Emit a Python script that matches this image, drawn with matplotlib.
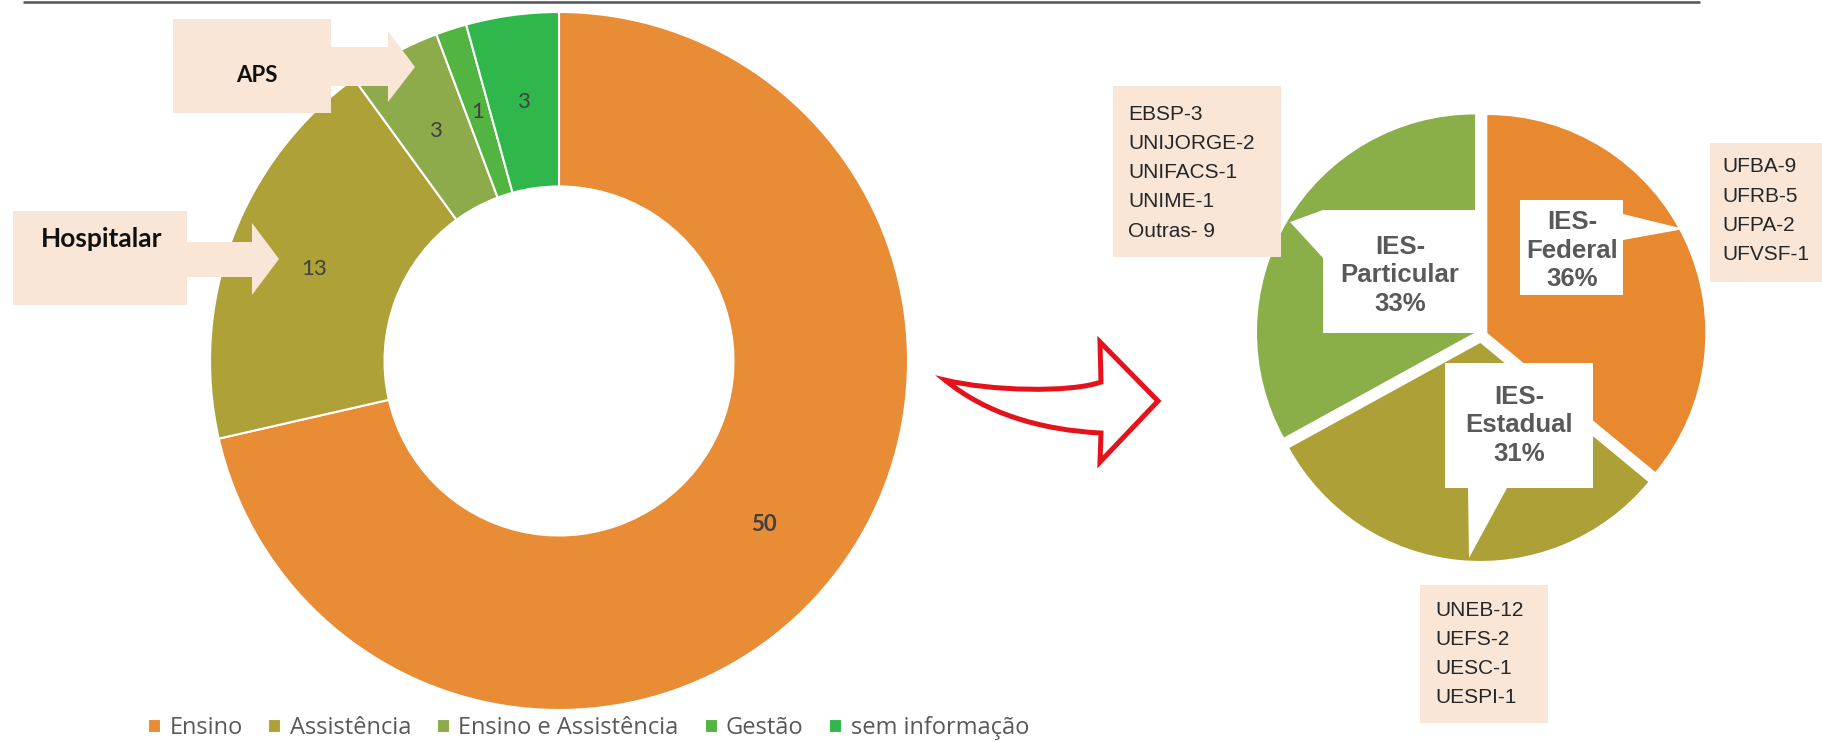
import matplotlib
matplotlib.use("Agg")
import matplotlib.pyplot as plt
from matplotlib.patches import Polygon, Rectangle, PathPatch
from matplotlib.path import Path

# Data
donut_labels = ["Ensino", "Assistência", "Ensino e Assistência", "Gestão", "sem informação"]
donut_values = [50, 13, 3, 1, 3]
donut_colors = ["#E88C35", "#AEA138", "#8DAB4B", "#52B541", "#2FB74B"]

ies_names = ["IES-\nFederal", "IES-\nEstadual", "IES-\nParticular"]
ies_pct = [36, 31, 33]
ies_colors = ["#E8892F", "#ADA036", "#8AAE48"]

federal_list = ["UFBA-9", "UFRB-5", "UFPA-2", "UFVSF-1"]
estadual_list = ["UNEB-12", "UEFS-2", "UESC-1", "UESPI-1"]
particular_list = ["EBSP-3", "UNIJORGE-2", "UNIFACS-1", "UNIME-1", "Outras- 9"]

W, H = 1822, 742
BEIGE = "#F9E6D7"
fig = plt.figure(figsize=(W / 100, H / 100), dpi=100)


def px_axes(cx, cy, half):
    # square axes centred on a pixel position (y measured from the top)
    return fig.add_axes([(cx - half) / W, (H - cy - half) / H, 2 * half / W, 2 * half / H])


# Donut chart
total = sum(donut_values)
ax1 = px_axes(559, 361, 349)
wedges, _, autotexts = ax1.pie(
    donut_values, colors=donut_colors, startangle=90, counterclock=False,
    wedgeprops=dict(width=0.5, edgecolor="white", linewidth=1.5),
    autopct=lambda p: f"{p * total / 100:.0f}", pctdistance=0.75,
    textprops=dict(color="#404040", fontsize=16, family="Lato"))
autotexts[0].set_fontweight("bold")
ax1.set_xlim(-1, 1)
ax1.set_ylim(-1, 1)

# Exploded pie of IES
ax2 = px_axes(1481, 336, 240)
ax2.pie(ies_pct, colors=ies_colors, startangle=90, counterclock=False,
        explode=[0.032] * len(ies_pct))
ax2.set_xlim(-240 / 218, 240 / 218)
ax2.set_ylim(-240 / 218, 240 / 218)

# Overlay in pixel coordinates for callouts and decorations
ov = fig.add_axes([0, 0, 1, 1])
ov.set_xlim(0, W)
ov.set_ylim(H, 0)
ov.axis("off")

ov.plot([23, 1700], [2, 2], color="#5A5A5A", lw=1.9, solid_capstyle="butt")

# beige arrow callouts on the donut
aps = [(173, 19), (331, 19), (331, 47), (388, 47), (388, 31), (415, 67),
       (388, 102), (388, 86), (331, 86), (331, 113), (173, 113)]
hosp = [(13, 211), (187, 211), (187, 242), (252, 242), (252, 223), (279, 259),
        (252, 295), (252, 277), (187, 277), (187, 305), (13, 305)]
for pts in (aps, hosp):
    ov.add_patch(Polygon(pts, closed=True, facecolor=BEIGE, edgecolor="none"))
ov.text(257, 76, "APS", ha="center", va="center", fontsize=16,
        fontweight="bold", family="Lato", color="#111111")
ov.text(102, 239, "Hospitalar", ha="center", va="center", fontsize=19,
        fontweight="bold", family="Lato", color="#111111")

# red curved arrow
verts = [(945, 380), (990, 391), (1070, 393), (1101, 382),
         (1100, 342), (1158, 401), (1100, 462), (1101, 433),
         (1040, 430), (985, 413), (945, 380), (945, 380)]
codes = [Path.MOVETO, Path.CURVE4, Path.CURVE4, Path.CURVE4,
         Path.LINETO, Path.LINETO, Path.LINETO, Path.LINETO,
         Path.CURVE4, Path.CURVE4, Path.CURVE4, Path.CLOSEPOLY]
ov.add_patch(PathPatch(Path(verts, codes), facecolor="white", edgecolor="#E3121B",
                       lw=3.6, joinstyle="miter"))

# white callouts on the pie
callouts = [
    [(1520, 200), (1623, 200), (1623, 214), (1684, 229), (1623, 240), (1623, 295), (1520, 295)],
    [(1445, 363), (1593, 363), (1593, 488), (1507, 488), (1469, 558), (1468, 488), (1445, 488)],
    [(1290, 222), (1323, 210), (1477, 210), (1477, 333), (1323, 333), (1323, 258)],
]
text_pos = [(1572, 222), (1519, 397), (1400, 247)]
for pts, (tx, ty), name, pct in zip(callouts, text_pos, ies_names, ies_pct):
    ov.add_patch(Polygon(pts, closed=True, facecolor="white", edgecolor="none"))
    lines = name.split("\n") + [f"{pct}%"]
    for i, line in enumerate(lines):
        ov.text(tx, ty + 28.5 * i, line, ha="center", va="center", fontsize=18.5,
                fontweight="bold", family="Liberation Sans", color="#595959")

# beige lists of institutions
boxes = [((1710, 143, 112, 139), (1722, 167), federal_list),
         ((1420, 585, 128, 138), (1435, 610), estadual_list),
         ((1113, 86, 168, 171), (1128, 114), particular_list)]
for (bx, by, bw, bh), (tx, ty), items in boxes:
    ov.add_patch(Rectangle((bx, by), bw, bh, facecolor=BEIGE, edgecolor="none"))
    for i, item in enumerate(items):
        ov.text(tx, ty + 29.3 * i, item, ha="left", va="center", fontsize=15,
                family="Liberation Sans", color="#262626")

# legend
fig.legend(wedges, donut_labels, loc="center left", bbox_to_anchor=(148 / W, 14 / H),
           ncol=5, frameon=False, handlelength=0.55, handleheight=0.55,
           handletextpad=0.35, columnspacing=1.1, borderpad=0, borderaxespad=0,
           prop=dict(family="Open Sans", size=17), labelcolor="#595959")

fig.savefig("out.png", dpi=100)
